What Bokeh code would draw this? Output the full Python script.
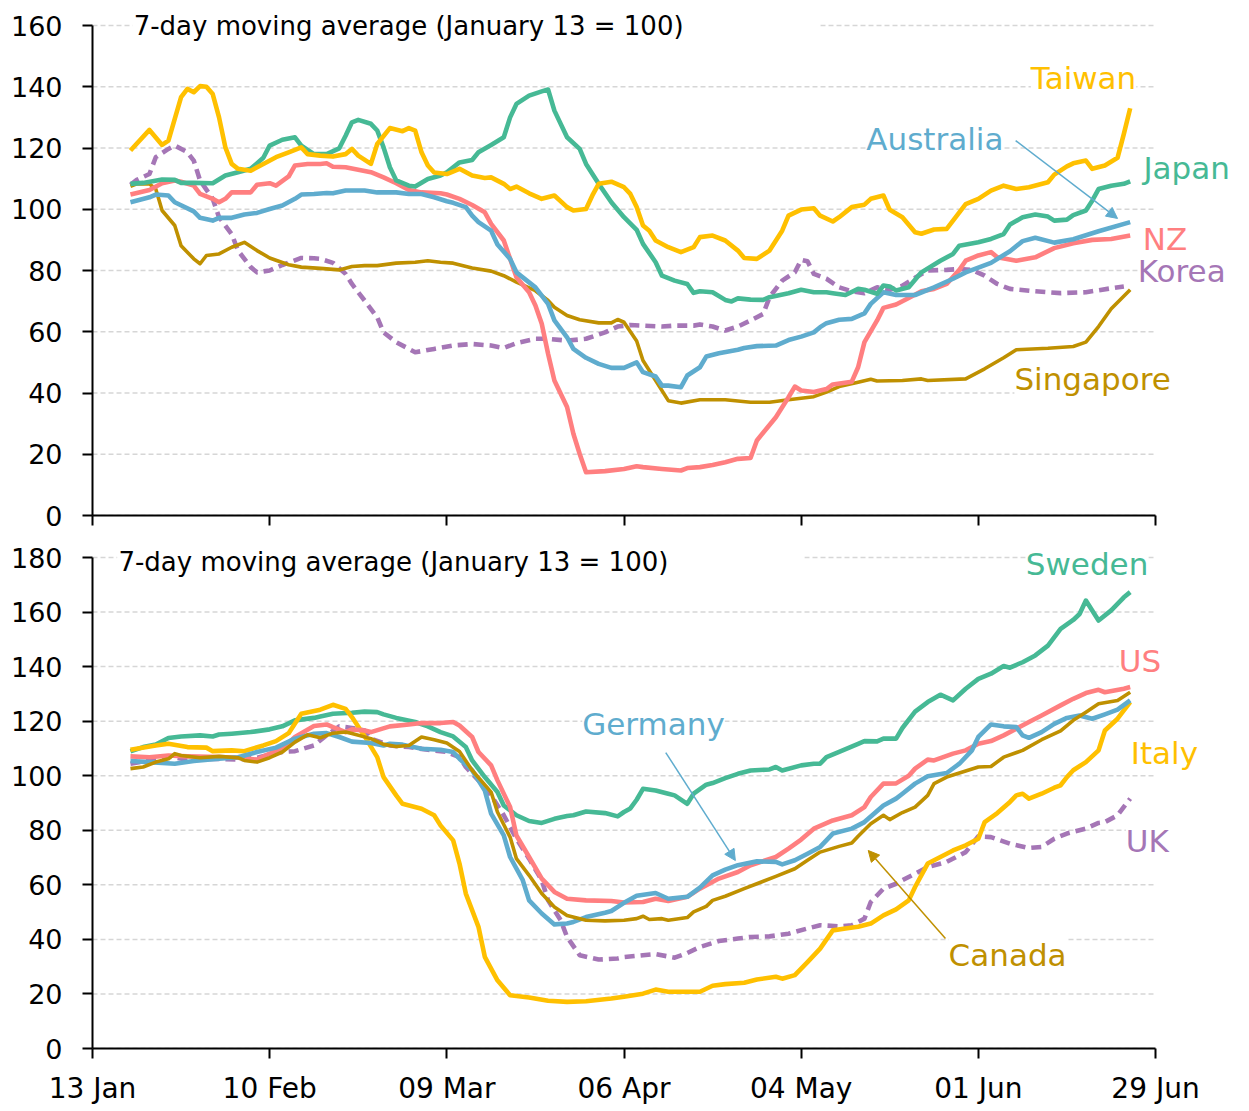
from bokeh.plotting import figure
from bokeh.models import FixedTicker, Label, Arrow, NormalHead, BoxAnnotation, Range1d
from bokeh.layouts import column
from bokeh.embed import file_html
from bokeh.resources import INLINE

# x values: days since 13 January 2020
tick_days = [0, 28, 56, 84, 112, 140, 168]
tick_labels = ["13 Jan", "10 Feb", "09 Mar", "06 Apr", "04 May", "01 Jun", "29 Jun"]
top_ticks = [0, 20, 40, 60, 80, 100, 120, 140, 160]
bottom_ticks = [0, 20, 40, 60, 80, 100, 120, 140, 160, 180]

# ---------------- top panel ----------------
taiwan = [(6,119.2),(9,125.9),(11,121),(12,122.4),(14,136.6),(15,139.3),(16,138.2),(17,140.2),(18,140),(19,137.6),
          (20,130),(21,120.2),(22,114.8),(23,113.2),(25,112.6),(27,114.8),(29,117),(31,118.6),(33,120.2),(34,118),
          (36,117.5),(38,117.2),(40,118),(41,119.7),(42,117.5),(44,114.8),(45,121.3),(47,126.5),(49,125.5),(50,126.5),
          (51,125.7),(52,118.6),(53,114.3),(54,112),(56,111.5),(58,113.2),(60,111),(62,110.2),(63,110.4),(65,108.3),
          (66,106.6),(67,107.4),(69,105.2),(71,103.4),(73,104.5),(75,100.7),(76,99.6),(78,100.1),(79,104.5),(80,108.3),
          (82,109),(84,107.2),(85,105),(86,100.7),(87,94.7),(88,93),(89,89.8),(91,87.6),(93,86),(95,87.6),
          (96,90.9),(98,91.4),(100,89.8),(102,86.5),(103,84.1),(105,83.8),(107,86.5),(109,93),(110,97.9),(112,99.9),
          (114,100.3),(115,97.9),(117,96),(118,97.4),(120,100.7),(122,101.5),(123,103.4),(125,104.5),(126,99.8),(128,97.4),
          (130,92.5),(131,92),(133,93.4),(135,93.6),(136,96.3),(138,101.7),(140,103.4),(142,106.1),(144,107.7),(146,106.6),
          (148,107.2),(151,108.8),(152,111.3),(154,114),(155,115),(157,115.9),(158,113.2),(160,114.3),(162,116.8),(163,124.6),
          (164,133)]
japan = [(6,108.3),(8,108.6),(11,109.7),(13,109.6),(14,108.6),(16,108.6),(19,108.5),(21,111),(23,112.1),(25,113.2),
         (27,116.8),(28,120.8),(30,122.7),(32,123.5),(33,120.8),(35,118),(37,118),(39,119.9),(40,124),(41,128.4),
         (42,129.2),(44,127.9),(45,125.7),(46,120.2),(47,113.7),(48,109.4),(50,107.7),(51,107.4),(53,109.9),(55,111),
         (56,112.1),(58,115.3),(60,116.1),(61,118.6),(63,121),(65,123.5),(66,130),(67,134.4),(69,137.1),(71,138.5),
         (72,139.1),(73,132.2),(75,123.5),(77,119.7),(78,114.8),(80,108.3),(82,102.3),(84,97.4),(86,93.3),(87,88.7),
         (89,82.7),(90,78.3),(92,76.7),(94,75.6),(95,72.7),(96,73.2),(98,72.9),(100,70.4),(101,69.9),(102,70.9),
         (104,70.5),(106,70.4),(107,71.3),(110,72.6),(112,73.7),(114,72.9),(116,72.9),(117,72.6),(119,72),(121,74),
         (122,73.7),(124,72.4),(125,75.1),(126,74.8),(127,73.5),(129,74.5),(131,79.4),(134,83.2),(136,85.4),(137,88.1),
         (140,89.2),(142,90.3),(144,91.9),(145,95),(147,97.4),(149,98.3),(151,97.6),(152,96.3),(154,96.6),(155,98.1),
         (157,99.6),(158,102.8),(159,106.6),(161,107.7),(163,108.3),(164,109.1)]
australia = [(6,102.3),(9,103.9),(10,104.8),(12,104.5),(13,102.3),(16,99.3),(17,97.2),(19,96.3),(20,97.2),(22,97.2),
             (24,98.3),(26,98.8),(28,100.1),(30,101.2),(32,103.4),(33,104.8),(35,105),(37,105.3),(38,105.2),(40,106.1),
             (43,106.1),(45,105.5),(48,105.5),(50,105),(52,105),(54,103.9),(56,102.6),(57,102.1),(59,100.7),(60,97.9),
             (61,95.8),(63,93),(64,88.5),(66,83.8),(67,79.4),(70,74.5),(72,69.1),(73,63.7),(75,58.2),(76,54.4),
             (78,51.5),(80,49.5),(82,48.2),(84,48.2),(86,50),(87,46.8),(89,45.4),(90,42.4),(91,42.4),(93,41.9),
             (94,45.7),(96,48.4),(97,51.9),(99,53),(102,54.1),(103,54.7),(105,55.3),(108,55.5),(110,57.3),(112,58.4),
             (114,59.8),(115,61.5),(116,62.8),(118,63.9),(120,64.2),(122,66),(123,69.1),(125,72.9),(127,72),(130,72),
             (133,74.5),(136,77.3),(138,79.4),(142,82.5),(145,86.3),(147,89.6),(149,90.7),(152,89.1),(155,90.2),(159,92.8),
             (164,95.8)]
nz = [(6,104.8),(9,106.3),(11,108.5),(13,109.4),(14,109),(16,107.7),(17,105),(19,103.4),(20,102.3),(21,103.4),
      (22,105.5),(25,105.5),(26,108),(28,108.5),(29,107.7),(31,110.7),(32,114.3),(34,114.8),(36,114.8),(37,115),
      (38,113.9),(40,113.7),(42,112.9),(44,112.1),(46,110.4),(48,108.5),(50,106.3),(52,105.5),(55,105.2),(56,104.8),
      (58,103.4),(60,101.4),(62,99),(63,95.2),(65,89.8),(66,83.8),(67,77.8),(69,72.9),(70,68.6),(71,62.6),
      (72,52.8),(73,44.1),(75,35.4),(76,26.7),(77,20.1),(78,14.1),(81,14.5),(84,15.2),(86,16.1),(87,15.8),
      (90,15.2),(93,14.7),(94,15.5),(96,15.8),(98,16.5),(100,17.4),(102,18.5),(104,18.8),(105,24.5),(108,32.1),
      (110,38.6),(111,42.1),(112,40.8),(114,40.3),(116,41.3),(117,42.8),(120,43.7),(121,48.4),(122,56.6),(124,63.7),
      (125,67.8),(127,68.9),(129,71),(131,73.2),(133,74),(135,75.6),(137,80.2),(138,83.2),(140,84.9),(142,86),
      (143,84.3),(146,83.2),(149,84.3),(152,87.3),(155,88.9),(158,90),(161,90.3),(164,91.4)]
korea = [(6,108),(7,109.6),(9,111.5),(10,117),(12,119.7),(13,120.8),(15,118.6),(16,115.9),(17,109.4),(19,103.4),
         (20,97.4),(22,91.9),(23,86.5),(25,81.1),(26,79.4),(28,80),(30,81.8),(33,84.1),(35,84),(36,83.8),
         (38,82.5),(40,78.9),(41,75.6),(43,70.2),(45,64.7),(46,59.8),(48,56.6),(51,53.3),(54,54.4),(57,55.5),
         (60,56),(63,55.5),(65,54.7),(67,56.3),(70,57.7),(72,57.7),(75,57.1),(78,57.7),(81,59.8),(83,61.7),
         (85,62.2),(87,62),(90,61.7),(92,62),(95,62),(96,62.4),(98,61.7),(100,60.4),(102,61.7),(104,63.7),
         (106,65.8),(107,71.3),(109,76.7),(111,79.4),(112,83.5),(113,83),(114,78.9),(116,77.3),(118,74.5),(120,73.2),
         (122,72.6),(124,74.5),(126,73.7),(128,75),(130,77.6),(132,80),(135,80.2),(137,80.5),(139,80.2),(141,78.3),
         (143,75.6),(145,74),(149,73.2),(153,72.6),(157,72.9),(161,74.2),(163,74.8)]
singapore = [(6,107.5),(7,108.3),(9,108.3),(10,106.6),(11,99.6),(13,94.7),(14,88.1),(16,83.8),(17,82.2),(18,84.9),
             (20,85.4),(22,87.6),(24,89.2),(26,86.5),(28,84.1),(31,81.9),(33,81.1),(36,80.7),(39,80.2),(41,81.3),
             (43,81.6),(45,81.6),(48,82.4),(51,82.7),(53,83.2),(55,82.7),(57,82.4),(60,80.8),(63,79.8),(65,78.3),
             (67,76.2),(70,73.4),(72,70.2),(73,68),(75,65.3),(77,63.9),(80,62.9),(82,62.9),(83,64),(84,63.1),
             (86,57),(87,50.6),(89,44.1),(91,37.5),(93,36.7),(96,37.8),(100,37.8),(104,37),(107,37),(110,37.8),
             (114,38.8),(116,40.3),(118,42.1),(121,43.5),(123,44.5),(124,43.9),(128,44.1),(131,44.6),(132,44.1),(138,44.6),
             (141,47.9),(144,51.5),(146,54.1),(151,54.6),(155,55.2),(157,56.6),(159,61.7),(161,67.5),(164,73.7)]

# ---------------- bottom panel ----------------
sweden = [(6,108.9),(8,110.5),(10,111.4),(12,113.8),(14,114.4),(17,114.8),(19,114.4),(20,115.1),(22,115.4),(25,116),
          (28,117),(30,118.1),(32,120.3),(35,121.2),(36,121.7),(38,122.7),(41,123.1),(43,123.5),(45,123.3),(46,122.5),
          (48,121.2),(51,119.7),(53,118.1),(55,116),(57,114.4),(59,110.5),(60,105.6),(62,99.5),(64,94),(65,89.1),
          (67,85.5),(69,83.4),(71,82.7),(73,84.2),(75,85.2),(76,85.5),(78,86.9),(81,86.3),(83,85.1),(84,86.7),
          (85,88),(86,91.2),(87,95.2),(89,94.6),(91,93.4),(92,92.8),(94,89.7),(95,93.4),(97,96.7),(98,97.3),
          (100,99.1),(102,100.7),(104,101.9),(107,102.3),(108,103.2),(109,101.9),(112,103.8),(114,104.4),(115,104.4),(116,106.8),
          (118,108.7),(121,111.7),(122,112.7),(124,112.6),(125,113.6),(127,113.6),(128,117.5),(130,123.5),(132,127),(134,129.7),
          (136,127.6),(138,131.9),(140,135.5),(142,137.4),(144,140.2),(145,139.6),(147,141.6),(149,144.1),(151,147.7),(153,153.8),
          (155,157.1),(156,159.3),(157,164.2),(159,156.9),(161,160.6),(163,165.4),(164,167.3)]
us = [(6,107.1),(9,106.8),(12,107.4),(15,107.1),(20,106.8),(23,106.6),(26,105.9),(28,108.1),(30,109.9),(32,114.2),
      (35,118.2),(37,118.8),(38,117.8),(40,116),(41,117),(43,116.6),(44,116),(47,118.1),(50,118.8),(52,119.3),
      (55,119.3),(57,119.7),(58,118.4),(60,114.2),(61,108.7),(63,103.8),(64,98.3),(66,88.5),(67,78.1),(69,70.2),
      (71,62.3),(73,57.4),(75,54.9),(78,54.3),(82,54.1),(84,53.5),(87,53.7),(89,54.9),(91,54.1),(94,55.6),
      (96,58.6),(99,62.3),(102,64.7),(104,67.2),(108,70.2),(110,73.3),(112,76.6),(114,80.6),(117,83.6),(120,85.5),
      (122,88.5),(123,92.2),(125,97.1),(127,97.2),(129,100),(130,102.6),(132,105.9),(133,105.6),(136,108.1),(138,109.3),
      (140,111.7),(142,112.7),(144,114.8),(146,117.2),(148,119.7),(150,122.1),(153,125.8),(155,128.2),(157,130.3),(159,131.5),
      (160,130.6),(163,131.9),(164,132.5)]
germany = [(6,105.4),(9,105),(13,104.4),(16,105.4),(20,106.2),(23,106.8),(26,108.7),(29,110.3),(32,113.6),(35,115.4),
           (37,115.6),(39,114.2),(41,112.5),(44,112),(46,111.1),(47,111.7),(49,111.4),(52,109.9),(55,109.5),(57,108.7),
           (58,106.2),(60,102),(62,94.6),(63,86.1),(65,78.1),(66,70.2),(68,61.7),(69,54.3),(71,49.5),(73,45.5),
           (75,45.8),(76,46.4),(78,48.2),(81,49.8),(82,50.4),(84,53.4),(86,56),(89,57),(91,54.9),(94,55.6),
           (96,59),(98,63.5),(100,65.6),(102,67.2),(105,68.6),(108,68.4),(109,67.5),(111,69),(113,71.4),(115,73.9),
           (117,78.8),(120,80.6),(122,83),(125,89.1),(127,91.6),(128,93.4),(130,97.1),(132,99.8),(135,101),(137,104.4),
           (139,109.3),(140,114.2),(142,118.8),(144,118.1),(146,117.8),(147,114.8),(148,113.9),(150,116),(152,119),(154,121.2),
           (156,122.1),(158,120.9),(160,122.5),(162,124.2),(164,127.6)]
italy = [(6,109.5),(10,111.1),(12,111.7),(15,110.5),(18,110.3),(19,109),(22,109.3),(24,109),(27,111.1),(29,112.7),
         (31,115.6),(33,122.7),(36,124.2),(38,126),(40,124.5),(41,121.5),(43,114.5),(45,106.8),(46,99.5),(48,92.8),
         (49,89.7),(52,87.9),(54,85.5),(55,81.8),(57,76.3),(58,67.8),(59,56.8),(61,44.6),(62,33.6),(64,25),
         (66,19.5),(69,18.7),(72,17.5),(75,17.1),(78,17.3),(82,18.3),(84,19),(87,20.1),(89,21.6),(91,20.8),
         (94,20.8),(96,20.8),(98,23),(100,23.6),(103,24.1),(105,25.3),(108,26.3),(109,25.6),(111,26.9),(113,31.7),
         (115,36.6),(117,43.3),(119,44),(121,44.6),(123,45.8),(125,48.8),(127,51),(129,54.3),(130,59.2),(132,67.8),
         (134,70.2),(136,72.6),(138,74.5),(140,76.9),(141,83),(143,86.3),(145,90.4),(146,92.8),(147,93.4),(148,91.6),
         (150,93.4),(152,95.6),(153,96.5),(154,99.5),(155,102),(157,105),(159,109.3),(160,116.6),(162,120.9),(164,127)]
uk = [(6,104.4),(9,105.6),(12,107.1),(15,105.9),(20,106.2),(23,105.9),(26,106.6),(28,107.8),(30,108.7),(32,109),
      (35,111.1),(37,114.8),(39,118.1),(41,117.5),(43,116.6),(44,113.6),(47,111.1),(50,110.5),(53,109.5),(56,108.7),
      (58,106.8),(59,103.2),(61,98.3),(63,92.8),(65,85.5),(67,76.9),(69,69.6),(71,61.7),(72,54.3),(74,47),
      (75,40.9),(77,34.2),(80,32.6),(83,33),(84,33.5),(87,34.2),(89,34.6),(92,33.3),(94,35),(96,37.2),
      (99,39.4),(102,40.3),(104,40.9),(107,41.1),(110,42.1),(113,44),(115,45.2),(118,44.8),(120,45.2),(122,47.6),
      (123,53.7),(125,58.6),(127,60.4),(128,61.7),(130,64.1),(132,66.5),(135,68.4),(138,72),(140,77.8),(142,77.5),
      (145,75.1),(148,73.5),(150,73.9),(152,76.9),(154,78.8),(157,80.6),(159,82.7),(160,83),(162,85.5),(164,91.6)]
canada = [(6,102.6),(8,103.2),(10,105),(12,106.2),(13,108.1),(14,107.4),(17,106.6),(20,107.1),(23,106.6),(24,105.6),
          (26,105),(28,106.6),(30,108.7),(32,112.3),(34,115),(36,113.9),(38,115.6),(40,116),(41,115.5),(44,113.6),
          (46,111.5),(48,110.7),(50,111.1),(52,114.2),(54,113.2),(56,112),(58,108.9),(60,102),(63,94),(64,86.7),
          (66,77.5),(67,69.6),(69,63.5),(71,56.8),(73,51.9),(75,48.8),(78,47),(81,46.8),(84,47),(86,47.6),
          (87,48.5),(88,47.3),(90,47.6),(91,47),(94,48),(95,50.1),(97,52.1),(98,54.3),(100,55.8),(103,58.6),
          (105,60.4),(108,63.1),(111,65.9),(113,69),(115,72),(118,74.1),(120,75.3),(121,77.8),(123,82.4),(125,85.5),
          (126,83.9),(128,86.5),(130,88.5),(132,92.8),(133,97.1),(135,99.5),(138,101.7),(140,103.2),(142,103.4),(144,106.8),
          (147,109.3),(150,113.2),(153,116.4),(155,120.3),(157,123.3),(159,126.4),(162,127.6),(164,130.6)]

YELLOW = "#FFC000"
GREEN = "#46B995"
BLUE = "#5FACCE"
PINK = "#FF7F80"
PURPLE = "#A576B6"
GOLD = "#BF9000"
FONT = "DejaVu Sans"
SUBTITLE = "7-day moving average (January 13  = 100)"

FIG_W = 1245
LEFT = 92
PX_PER_DAY = 1063 / 168
LW = 4.6
LW_GOLD = 3.6


def make_fig(yticks, px_per_unit, frame_h, bottom_border, show_x_labels):
    ymax = yticks[-1]
    y_end = frame_h / px_per_unit
    x_end = (FIG_W - LEFT) / PX_PER_DAY
    p = figure(width=FIG_W, height=frame_h + bottom_border,
               x_range=Range1d(0, x_end), y_range=Range1d(0, y_end),
               output_backend="svg", toolbar_location=None,
               min_border_left=LEFT, min_border_right=0,
               min_border_top=0, min_border_bottom=bottom_border)
    p.outline_line_color = None
    p.background_fill_color = "white"
    p.xgrid.visible = False
    p.ygrid.visible = False
    # dashed horizontal gridlines that stop at the end of the x axis
    p.segment(x0=[0] * len(yticks), x1=[tick_days[-1]] * len(yticks), y0=yticks, y1=yticks,
              line_color="#D6D6D6", line_dash="5 3", line_width=1.5, level="underlay")
    p.yaxis.ticker = FixedTicker(ticks=yticks)
    p.yaxis.bounds = (0, ymax)
    p.xaxis.ticker = FixedTicker(ticks=tick_days)
    p.xaxis.bounds = (tick_days[0], tick_days[-1])
    p.xaxis.major_label_overrides = {d: t for d, t in zip(tick_days, tick_labels)}
    for ax in (p.xaxis[0], p.yaxis[0]):
        ax.axis_line_color = "black"
        ax.axis_line_width = 2
        ax.major_tick_line_color = "black"
        ax.major_tick_line_width = 2
        ax.major_tick_in = 0
        ax.major_tick_out = 10
        ax.minor_tick_line_color = None
        ax.major_label_text_font = FONT
        ax.major_label_text_color = "black"
    p.yaxis.major_label_text_font_size = "27px"
    p.xaxis.major_label_text_font_size = "28px"
    p.yaxis.major_label_standoff = 20
    p.xaxis.major_label_standoff = 13
    if not show_x_labels:
        p.xaxis.major_label_text_font_size = "0px"
        p.xaxis.major_label_text_color = None
    return p


def draw(p, data, color, width=LW, dash="solid"):
    xs = [d for d, v in data]
    ys = [v for d, v in data]
    p.line(xs, ys, line_color=color, line_width=width, line_dash=dash, line_join="round")


def label(p, x, y, text, color, size="31px"):
    p.add_layout(Label(x=x, y=y, text=text, text_color=color, text_font=FONT,
                       text_font_size=size, text_baseline="middle", text_align="left",
                       background_fill_color="white"))


def arrow(p, x0, y0, x1, y1, color):
    p.add_layout(Arrow(end=NormalHead(size=11, fill_color=color, line_color=color),
                       x_start=x0, y_start=y0, x_end=x1, y_end=y1,
                       line_color=color, line_width=1.5))


# ---- top figure: frame from page y=0 to y=515, 160 at y=25 ----
top = make_fig(top_ticks, 490 / 160, 515, 20, False)
draw(top, korea, PURPLE, LW, "10 6")
draw(top, singapore, GOLD, LW_GOLD)
draw(top, nz, PINK)
draw(top, australia, BLUE)
draw(top, japan, GREEN)
draw(top, taiwan, YELLOW)
top.add_layout(BoxAnnotation(left=6.3, right=115, bottom=156, top=164, fill_color="white",
                             fill_alpha=1, line_color=None))
label(top, 6.5, 160, SUBTITLE, "black", "26px")
label(top, 148.3, 143, "Taiwan", YELLOW)
label(top, 122.3, 123, "Australia", BLUE)
arrow(top, 145.9, 122.4, 162, 97, BLUE)
label(top, 166.1, 113.6, "Japan", GREEN)
label(top, 166.0, 90.4, "NZ", PINK)
label(top, 165.2, 80, "Korea", PURPLE)
label(top, 145.7, 44.7, "Singapore", GOLD)

# ---- bottom figure: frame from page y=535 to y=1048, 180 at y=557 ----
bot = make_fig(bottom_ticks, 491 / 180, 513, 60, True)
draw(bot, uk, PURPLE, LW, "10 6")
draw(bot, sweden, GREEN)
draw(bot, italy, YELLOW)
draw(bot, us, PINK)
draw(bot, germany, BLUE)
draw(bot, canada, GOLD, LW_GOLD)
bot.add_layout(BoxAnnotation(left=3.9, right=112.5, bottom=175, top=185, fill_color="white",
                             fill_alpha=1, line_color=None))
label(bot, 4.1, 178.2, SUBTITLE, "black", "26px")
label(bot, 147.5, 177.8, "Sweden", GREEN)
label(bot, 162.2, 141.9, "US", PINK)
label(bot, 77.4, 119.1, "Germany", BLUE)
arrow(bot, 90.6, 108.5, 101.6, 68.9, BLUE)
label(bot, 164.1, 108.5, "Italy", YELLOW)
label(bot, 163.3, 76.2, "UK", PURPLE)
label(bot, 135.3, 34.1, "Canada", GOLD)
arrow(bot, 134.8, 40.3, 122.6, 72.6, GOLD)

layout = column(top, bot, spacing=0)
open("out.html", "w").write(file_html(layout, INLINE))
